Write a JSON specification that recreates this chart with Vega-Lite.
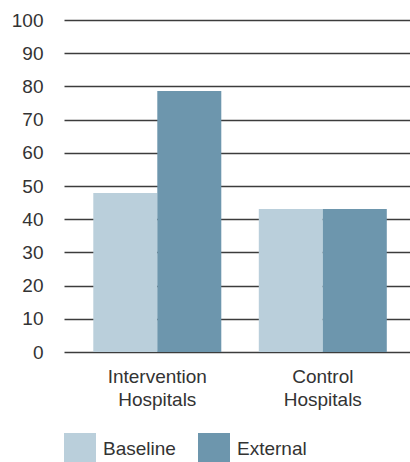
{
  "$schema": "https://vega.github.io/schema/vega-lite/v6.json",
  "autosize": "none",
  "width": 346,
  "height": 332,
  "padding": {"left": 64, "top": 20, "right": 0, "bottom": 110},
  "background": "white",
  "config": {
    "view": {"stroke": null},
    "font": "Liberation Sans",
    "axis": {"labelFont": "Liberation Sans", "labelColor": "#333333", "labelFontSize": 19, "domain": false, "ticks": false, "title": null}
  },
  "data": {
    "values": [
      {"group": "Intervention Hospitals", "series": "Baseline", "value": 47.9},
      {"group": "Intervention Hospitals", "series": "External", "value": 78.6},
      {"group": "Control Hospitals", "series": "Baseline", "value": 43.1},
      {"group": "Control Hospitals", "series": "External", "value": 43.1}
    ]
  },
  "mark": {"type": "bar"},
  "encoding": {
    "x": {
      "field": "group",
      "type": "nominal",
      "sort": ["Intervention Hospitals", "Control Hospitals"],
      "scale": {"paddingInner": 0.2266, "paddingOuter": 0.1586, "align": 0.558},
      "axis": {"labelAngle": 0, "grid": false, "labelExpr": "split(datum.label, ' ')", "labelLineHeight": 23, "labelPadding": 30, "labelBaseline": "alphabetic"}
    },
    "xOffset": {"field": "series", "type": "nominal", "sort": ["Baseline", "External"], "scale": {"paddingInner": 0, "paddingOuter": 0}},
    "y": {
      "field": "value",
      "type": "quantitative",
      "scale": {"domain": [0, 100], "nice": false},
      "axis": {"values": [0, 10, 20, 30, 40, 50, 60, 70, 80, 90, 100], "grid": true, "gridColor": "#3c3c3c", "gridWidth": 1.3, "gridOpacity": 1, "labelPadding": 21}
    },
    "color": {
      "field": "series",
      "type": "nominal",
      "sort": ["Baseline", "External"],
      "scale": {"domain": ["Baseline", "External"], "range": ["#BACFDB", "#6D96AD"]},
      "legend": {
        "title": null,
        "orient": "none",
        "legendX": 0,
        "legendY": 413,
        "direction": "horizontal",
        "symbolType": "square",
        "symbolSize": 1024,
        "symbolStrokeWidth": 0,
        "labelFontSize": 19,
        "labelColor": "#333333",
        "labelFont": "Liberation Sans",
        "labelOffset": 7,
        "columnPadding": 22,
        "padding": 0
      }
    }
  }
}
